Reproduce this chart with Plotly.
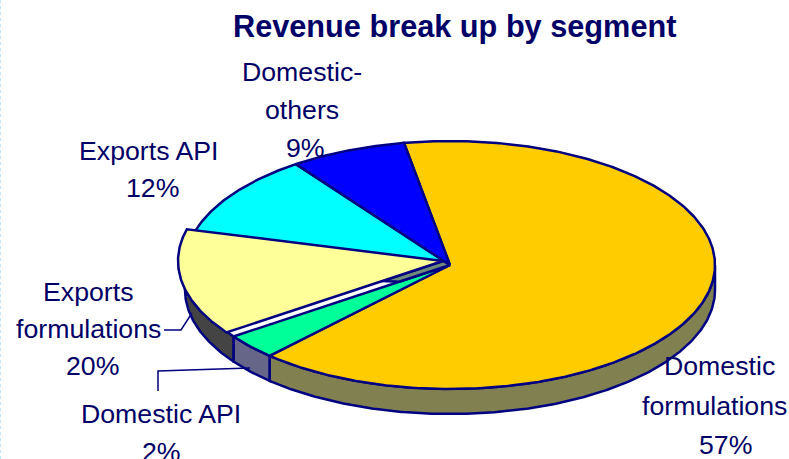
import numpy as np
import plotly.graph_objects as go

# Segment names and the percentages printed on the chart
segments = ["Domestic formulations", "Domestic API", "Exports formulations", "Exports API", "Domestic-others"]
printed_percent = [57, 2, 20, 12, 9]
# Share of the ellipse each slice visibly takes in the picture (3D view differs from the printed figures)
drawn_share = [64.7, 3.3, 13.9, 11.0, 7.1]
face_colors = ["#FFCC00", "#00FF99", "#FFFF99", "#00FFFF", "#0000FF"]
wall_colors = ["#808050", "#666688", "#444444", None, None]

W, H = 789, 459
CX, CY, RX, RY, DEPTH = 450, 265, 265, 124, 25
START = -10
EXPLODE = {2: (-7, -4)}
INK = "#000080"
TEXT = "#000066"
FONT = "Liberation Sans"


def arc(a0, a1, dy=0, off=(0, 0)):
    t = np.radians(np.linspace(a0, a1, max(int(abs(a1 - a0)) * 2, 2)))
    return CX + off[0] + RX * np.sin(t), CY + off[1] + dy - RY * np.cos(t)


def poly(fig, x, y, color):
    x = np.append(x, x[0])
    y = np.append(y, y[0])
    fig.add_trace(go.Scatter(x=x, y=y, mode="lines", fill="toself", fillcolor=color,
                             line=dict(color=INK, width=2.5), hoverinfo="skip", showlegend=False))


edges = START + np.cumsum([0] + drawn_share) * 3.6
fig = go.Figure()

# Side walls (front half of the ellipse only)
for i, wall in enumerate(wall_colors):
    if wall is None:
        continue
    a0 = max(edges[i], 90)
    a1 = min(edges[i + 1], 270)
    xt, yt = arc(a0, a1)
    xb, yb = arc(a0, a1, dy=DEPTH)
    poly(fig, np.r_[xt, xb[::-1]], np.r_[yt, yb[::-1]], wall)

# Top faces: non-exploded slices first
for i, color in enumerate(face_colors):
    if i in EXPLODE:
        continue
    xa, ya = arc(edges[i], edges[i + 1])
    poly(fig, np.r_[CX, xa], np.r_[CY, ya], color)

# Exploded slice with the cut face seen next to its tip
for i, off in EXPLODE.items():
    xa, ya = arc(edges[i], edges[i + 1], off=off)
    tipx, tipy = CX + off[0], CY + off[1]
    gx, gy = arc(edges[i], edges[i])
    ux, uy = tipx + 0.28 * (xa[0] - tipx), tipy + 0.28 * (ya[0] - tipy)
    lx, ly = CX + 0.235 * (gx[0] - CX), CY + 0.235 * (gy[0] - CY)
    poly(fig, np.array([tipx, CX, lx, ux]), np.array([tipy, CY, ly, uy]), "#6E8A78")
    poly(fig, np.r_[tipx, xa], np.r_[tipy, ya], face_colors[i])

# Leader lines
leaders = [([164, 181, 192], [330, 330, 313]), ([158, 158, 250], [391, 371, 368])]
for lx, ly in leaders:
    fig.add_trace(go.Scatter(x=lx, y=ly, mode="lines", line=dict(color=INK, width=1.5),
                             hoverinfo="skip", showlegend=False))

# One text per printed line: (segment index, words, centre x, centre y)
name_lines = [
    (0, "Domestic", 719, 366), (0, "formulations", 714, 406),
    (1, "Domestic API", 161, 414),
    (2, "Exports", 88, 292), (2, "formulations", 88, 329),
    (3, "Exports API", 148, 151),
    (4, "Domestic-", 302, 72), (4, "others", 302, 110),
]
percent_pos = [(725, 445), (161, 452), (92, 366), (152, 188), (305, 148)]

annotations = []
for _, words, x, y in name_lines:
    annotations.append(dict(x=x, y=y, text=words, showarrow=False, xanchor="center", yanchor="middle",
                            font=dict(family=FONT, size=26.7, color=TEXT)))
for v, (x, y) in zip(printed_percent, percent_pos):
    annotations.append(dict(x=x, y=y, text=f"{v}%", showarrow=False, xanchor="center", yanchor="middle",
                            font=dict(family=FONT, size=26.7, color=TEXT)))
annotations.append(dict(x=454, y=26, text="<b>Revenue break up by segment</b>", showarrow=False,
                        xanchor="center", yanchor="middle", font=dict(family=FONT, size=30.7, color=TEXT)))

fig.update_layout(
    width=W, height=H, margin=dict(l=0, r=0, t=0, b=0), autosize=False,
    paper_bgcolor="white", plot_bgcolor="white", annotations=annotations,
    xaxis=dict(range=[0, W], visible=False, fixedrange=True),
    yaxis=dict(range=[H, 0], visible=False, fixedrange=True),
    shapes=[dict(type="line", xref="x", yref="y", x0=0.5, x1=0.5, y0=0, y1=H,
                 line=dict(color="#BFE6FF", width=1, dash="dot"))],
)
fig.write_html("out.html", config={"displayModeBar": False},
               post_script="document.body.style.margin='0';document.body.style.overflow='hidden';")
